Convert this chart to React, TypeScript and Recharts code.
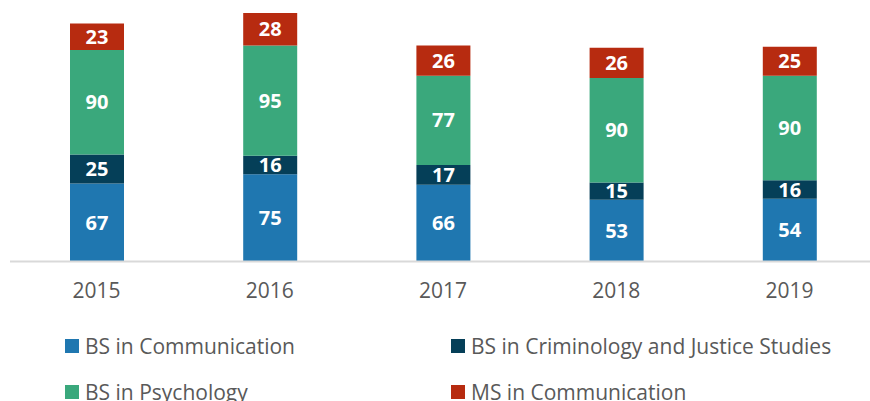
import React from 'react';
import { BarChart, Bar, XAxis, YAxis, Legend, LabelList } from 'recharts';

const years = ['2015', '2016', '2017', '2018', '2019'];
const bsCommunication = [67, 75, 66, 53, 54];
const bsCriminology = [25, 16, 17, 15, 16];
const bsPsychology = [90, 95, 77, 90, 90];
const msCommunication = [23, 28, 26, 26, 25];

const series = [
  { key: 'bsComm', name: 'BS in Communication', color: '#1f77b0' },
  { key: 'bsCrim', name: 'BS in Criminology and Justice Studies', color: '#053f58' },
  { key: 'bsPsych', name: 'BS in Psychology', color: '#3aa87c' },
  { key: 'msComm', name: 'MS in Communication', color: '#b72b10' },
];

const data = years.map((year, i) => ({
  year,
  bsComm: bsCommunication[i],
  bsCrim: bsCriminology[i],
  bsPsych: bsPsychology[i],
  msComm: msCommunication[i],
}));

// legend grid: two columns, two rows (square top-left corners)
const colX = [65, 451];
const rowY = [339, 385];
const legendTop = 330;

const renderLegend = (props: any) => {
  const items = props.payload || [];
  return (
    <div style={{ position: 'relative', width: 870, height: 71 }}>
      {items.map((item: any, i: number) => (
        <div
          key={item.value}
          style={{
            position: 'absolute',
            left: colX[i % 2],
            top: rowY[Math.floor(i / 2)] - legendTop - 4,
            display: 'flex',
            alignItems: 'center',
            height: 22,
            whiteSpace: 'nowrap',
          }}
        >
          <span style={{ display: 'inline-block', width: 14, height: 14, background: item.color, marginRight: 6 }} />
          <span style={{ fontFamily: '"Open Sans", sans-serif', fontSize: 21, color: '#595959', lineHeight: '22px' }}>
            {item.value}
          </span>
        </div>
      ))}
    </div>
  );
};

const App: React.FC = () => {
  return (
    <div style={{ position: 'absolute', left: 0, top: 0, width: 870, height: 401, overflow: 'hidden', background: '#fff' }}>
      <BarChart
        width={880}
        height={401}
        data={data}
        margin={{ top: 6, right: 4, bottom: 109.6, left: 10 }}
        barSize={54}
      >
        <XAxis
          dataKey="year"
          height={30}
          axisLine={{ stroke: '#d9d9d9', strokeWidth: 2 }}
          tickLine={false}
          tickSize={0}
          tickMargin={22}
          tick={{ fill: '#595959', fontSize: 21, fontFamily: '"Open Sans", sans-serif' }}
        />
        <YAxis hide domain={[0, 220]} />
        <Legend
          verticalAlign="middle"
          align="center"
          wrapperStyle={{ left: 0, top: legendTop, width: 870 }}
          content={renderLegend}
        />
        {series.map((s) => (
          <Bar key={s.key} dataKey={s.key} name={s.name} stackId="a" fill={s.color} isAnimationActive={false}>
            <LabelList
              dataKey={s.key}
              position="center"
              fill="#ffffff"
              style={{ fontSize: 20, fontWeight: 700, fontFamily: '"Open Sans", sans-serif' }}
            />
          </Bar>
        ))}
      </BarChart>
    </div>
  );
};

export default App;
